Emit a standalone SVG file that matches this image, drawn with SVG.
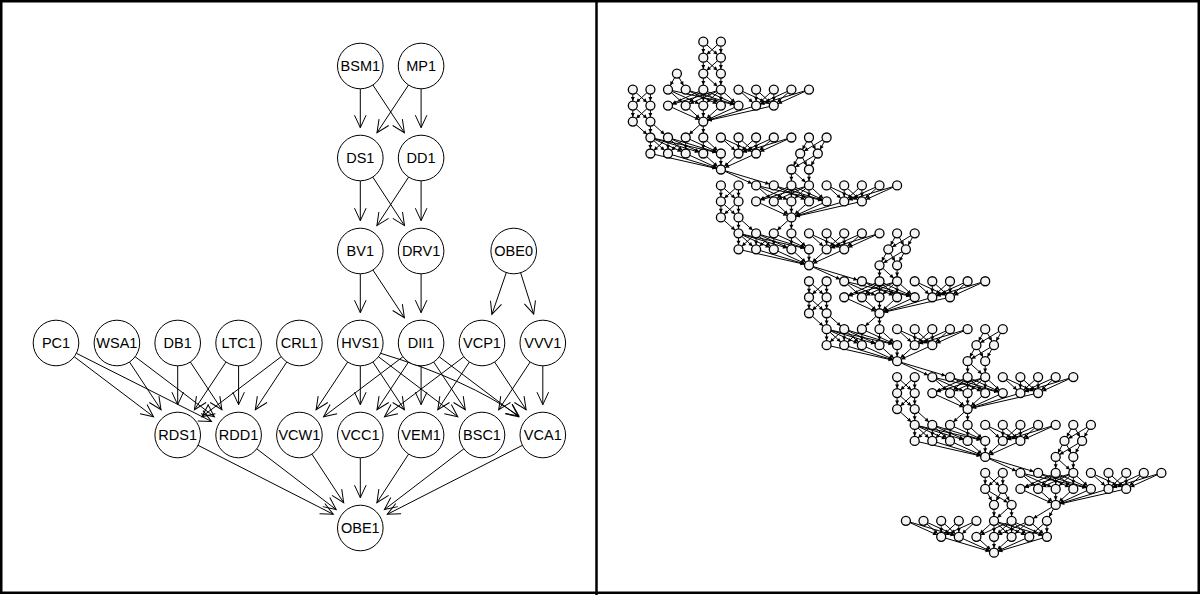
<svg xmlns="http://www.w3.org/2000/svg" width="1201" height="595" viewBox="0 0 1201 595">
<style>
.nd circle{fill:#fff;stroke:#000;stroke-width:1}
.nd text{font-family:"Liberation Sans",Arial,sans-serif;font-size:14.5px;text-anchor:middle;fill:#000}
.e line,.e path{stroke:#000;stroke-width:1;fill:none;marker-end:url(#ah)}
.se line{stroke:#000;stroke-width:1;marker-end:url(#sah)}
.sn circle{fill:#f4f4f4;stroke:#000;stroke-width:1.3}
.frame{fill:none;stroke:#000;stroke-width:2.5}
</style>
<defs>
<marker id="ah" markerUnits="userSpaceOnUse" orient="auto" overflow="visible" markerWidth="1" markerHeight="1" refX="0" refY="0"><path d="M-12.5,-5.8L0,0L-12.5,5.8" fill="none" stroke="#000" stroke-width="1"/></marker>
<marker id="sah" markerUnits="userSpaceOnUse" orient="auto" overflow="visible" markerWidth="1" markerHeight="1" refX="0" refY="0"><path d="M-4.6,0L-8.6,-2L-8.6,2Z" fill="#000"/></marker>
<g id="eA" class="se">
<line x1="703.3" y1="89.6" x2="668" y2="105.6"/><line x1="703.3" y1="89.6" x2="685.7" y2="105.6"/><line x1="703.3" y1="89.6" x2="703.3" y2="105.6"/><line x1="703.3" y1="89.6" x2="720.9" y2="105.6"/><line x1="703.3" y1="89.6" x2="738.5" y2="105.6"/>
<line x1="720.9" y1="89.6" x2="668" y2="105.6"/><line x1="720.9" y1="89.6" x2="685.7" y2="105.6"/><line x1="720.9" y1="89.6" x2="703.3" y2="105.6"/><line x1="720.9" y1="89.6" x2="720.9" y2="105.6"/><line x1="720.9" y1="89.6" x2="738.5" y2="105.6"/>
<line x1="668" y1="89.6" x2="685.7" y2="105.6"/><line x1="668" y1="89.6" x2="703.3" y2="105.6"/><line x1="668" y1="89.6" x2="738.5" y2="105.6"/>
<line x1="685.7" y1="89.6" x2="720.9" y2="105.6"/><line x1="685.7" y1="89.6" x2="738.5" y2="105.6"/>
<line x1="738.5" y1="89.6" x2="756.1" y2="105.6"/><line x1="738.5" y1="89.6" x2="773.8" y2="105.6"/><line x1="756.1" y1="89.6" x2="756.1" y2="105.6"/><line x1="756.1" y1="89.6" x2="773.8" y2="105.6"/><line x1="773.8" y1="89.6" x2="756.1" y2="105.6"/><line x1="773.8" y1="89.6" x2="773.8" y2="105.6"/><line x1="791.4" y1="89.6" x2="756.1" y2="105.6"/><line x1="791.4" y1="89.6" x2="773.8" y2="105.6"/><line x1="809" y1="89.6" x2="756.1" y2="105.6"/><line x1="809" y1="89.6" x2="773.8" y2="105.6"/>
<line x1="668" y1="105.6" x2="703.3" y2="121.6"/><line x1="685.7" y1="105.6" x2="703.3" y2="121.6"/><line x1="703.3" y1="105.6" x2="703.3" y2="121.6"/><line x1="720.9" y1="105.6" x2="703.3" y2="121.6"/><line x1="738.5" y1="105.6" x2="703.3" y2="121.6"/><line x1="756.1" y1="105.6" x2="703.3" y2="121.6"/><line x1="773.8" y1="105.6" x2="703.3" y2="121.6"/>
</g>
<g id="nA" class="sn">
<circle cx="668" cy="89.6" r="4.5"/><circle cx="685.7" cy="89.6" r="4.5"/><circle cx="703.3" cy="89.6" r="4.5"/><circle cx="720.9" cy="89.6" r="4.5"/><circle cx="738.5" cy="89.6" r="4.5"/><circle cx="756.1" cy="89.6" r="4.5"/><circle cx="773.8" cy="89.6" r="4.5"/><circle cx="791.4" cy="89.6" r="4.5"/><circle cx="809" cy="89.6" r="4.5"/>
<circle cx="668" cy="105.6" r="4.5"/><circle cx="685.7" cy="105.6" r="4.5"/><circle cx="703.3" cy="105.6" r="4.5"/><circle cx="720.9" cy="105.6" r="4.5"/><circle cx="738.5" cy="105.6" r="4.5"/><circle cx="756.1" cy="105.6" r="4.5"/><circle cx="773.8" cy="105.6" r="4.5"/>
<circle cx="703.3" cy="121.6" r="4.5"/>
</g>
<g id="eB" class="se">
<line x1="632.8" y1="89.6" x2="632.8" y2="105.6"/><line x1="632.8" y1="89.6" x2="650.4" y2="105.6"/><line x1="650.4" y1="89.6" x2="632.8" y2="105.6"/><line x1="650.4" y1="89.6" x2="650.4" y2="105.6"/>
<line x1="632.8" y1="105.6" x2="632.8" y2="121.6"/><line x1="632.8" y1="105.6" x2="650.4" y2="121.6"/><line x1="650.4" y1="105.6" x2="632.8" y2="121.6"/><line x1="650.4" y1="105.6" x2="650.4" y2="121.6"/>
<line x1="650.4" y1="121.6" x2="650.4" y2="137.5"/><line x1="650.4" y1="121.6" x2="668" y2="137.5"/><line x1="632.8" y1="121.6" x2="650.4" y2="137.5"/>
<line x1="703.3" y1="121.6" x2="685.7" y2="137.5"/><line x1="703.3" y1="121.6" x2="703.3" y2="137.5"/>
<line x1="668" y1="137.5" x2="650.4" y2="153.5"/><line x1="668" y1="137.5" x2="668" y2="153.5"/><line x1="668" y1="137.5" x2="685.7" y2="153.5"/><line x1="668" y1="137.5" x2="703.3" y2="153.5"/><line x1="668" y1="137.5" x2="720.9" y2="153.5"/>
<line x1="650.4" y1="137.5" x2="650.4" y2="153.5"/><line x1="650.4" y1="137.5" x2="668" y2="153.5"/><line x1="650.4" y1="137.5" x2="685.7" y2="153.5"/><line x1="650.4" y1="137.5" x2="703.3" y2="153.5"/><line x1="650.4" y1="137.5" x2="720.9" y2="153.5"/>
<line x1="685.7" y1="137.5" x2="668" y2="153.5"/><line x1="685.7" y1="137.5" x2="685.7" y2="153.5"/><line x1="685.7" y1="137.5" x2="720.9" y2="153.5"/>
<line x1="703.3" y1="137.5" x2="703.3" y2="153.5"/><line x1="703.3" y1="137.5" x2="720.9" y2="153.5"/>
<line x1="720.9" y1="137.5" x2="738.5" y2="153.5"/><line x1="720.9" y1="137.5" x2="756.1" y2="153.5"/><line x1="738.5" y1="137.5" x2="738.5" y2="153.5"/><line x1="738.5" y1="137.5" x2="756.1" y2="153.5"/><line x1="756.1" y1="137.5" x2="738.5" y2="153.5"/><line x1="756.1" y1="137.5" x2="756.1" y2="153.5"/><line x1="773.8" y1="137.5" x2="738.5" y2="153.5"/><line x1="773.8" y1="137.5" x2="756.1" y2="153.5"/><line x1="791.4" y1="137.5" x2="738.5" y2="153.5"/><line x1="791.4" y1="137.5" x2="756.1" y2="153.5"/>
<line x1="650.4" y1="153.5" x2="720.9" y2="169.5"/><line x1="668" y1="153.5" x2="720.9" y2="169.5"/><line x1="685.7" y1="153.5" x2="720.9" y2="169.5"/><line x1="703.3" y1="153.5" x2="720.9" y2="169.5"/><line x1="720.9" y1="153.5" x2="720.9" y2="169.5"/><line x1="738.5" y1="153.5" x2="720.9" y2="169.5"/><line x1="756.1" y1="153.5" x2="720.9" y2="169.5"/>
</g>
<g id="nB" class="sn">
<circle cx="632.8" cy="89.6" r="4.5"/><circle cx="650.4" cy="89.6" r="4.5"/><circle cx="632.8" cy="105.6" r="4.5"/><circle cx="650.4" cy="105.6" r="4.5"/><circle cx="632.8" cy="121.6" r="4.5"/><circle cx="650.4" cy="121.6" r="4.5"/>
<circle cx="650.4" cy="137.5" r="4.5"/><circle cx="668" cy="137.5" r="4.5"/><circle cx="685.7" cy="137.5" r="4.5"/><circle cx="703.3" cy="137.5" r="4.5"/><circle cx="720.9" cy="137.5" r="4.5"/><circle cx="738.5" cy="137.5" r="4.5"/><circle cx="756.1" cy="137.5" r="4.5"/><circle cx="773.8" cy="137.5" r="4.5"/><circle cx="791.4" cy="137.5" r="4.5"/>
<circle cx="650.4" cy="153.5" r="4.5"/><circle cx="668" cy="153.5" r="4.5"/><circle cx="685.7" cy="153.5" r="4.5"/><circle cx="703.3" cy="153.5" r="4.5"/><circle cx="720.9" cy="153.5" r="4.5"/><circle cx="738.5" cy="153.5" r="4.5"/><circle cx="756.1" cy="153.5" r="4.5"/>
<circle cx="720.9" cy="169.5" r="4.5"/>
</g>
<g id="eC" class="se">
<line x1="809" y1="137.5" x2="800.2" y2="153.5"/><line x1="809" y1="137.5" x2="817.8" y2="153.5"/><line x1="826.6" y1="137.5" x2="800.2" y2="153.5"/><line x1="826.6" y1="137.5" x2="817.8" y2="153.5"/>
<line x1="800.2" y1="153.5" x2="791.4" y2="169.5"/><line x1="800.2" y1="153.5" x2="809" y2="169.5"/><line x1="817.8" y1="153.5" x2="791.4" y2="169.5"/><line x1="817.8" y1="153.5" x2="809" y2="169.5"/>
<line x1="791.4" y1="169.5" x2="791.4" y2="185.4"/><line x1="791.4" y1="169.5" x2="809" y2="185.4"/><line x1="809" y1="169.5" x2="809" y2="185.4"/>
<line x1="720.9" y1="169.5" x2="756.1" y2="185.4"/><line x1="720.9" y1="169.5" x2="773.8" y2="185.4"/>
</g>
<g id="nC" class="sn">
<circle cx="809" cy="137.5" r="4.5"/><circle cx="826.6" cy="137.5" r="4.5"/><circle cx="800.2" cy="153.5" r="4.5"/><circle cx="817.8" cy="153.5" r="4.5"/><circle cx="791.4" cy="169.5" r="4.5"/><circle cx="809" cy="169.5" r="4.5"/>
</g>
</defs>
<rect width="1201" height="595" fill="#fff"/>
<g id="frame">
<rect class="frame" x="1.25" y="1.25" width="1197.5" height="591.5"/>
<line x1="596.5" y1="0" x2="596.5" y2="595" stroke="#000" stroke-width="2.5"/>
</g>
<g id="connectors" class="e">
<line x1="360.3" y1="88.8" x2="360.3" y2="127.7"/>
<line x1="372.9" y1="85" x2="404.4" y2="132.7"/>
<line x1="408.5" y1="85" x2="377" y2="132.7"/>
<line x1="421.1" y1="88.8" x2="421.1" y2="127.7"/>
<line x1="360.3" y1="180.8" x2="360.3" y2="220.7"/>
<line x1="372.8" y1="177.1" x2="404.5" y2="225.6"/>
<line x1="408.6" y1="177.1" x2="376.9" y2="225.6"/>
<line x1="421.1" y1="180.8" x2="421.1" y2="220.7"/>
<line x1="360.3" y1="273.8" x2="360.3" y2="312.7"/>
<line x1="372.9" y1="270" x2="404.4" y2="317.7"/>
<line x1="421.1" y1="273.8" x2="421.1" y2="312.7"/>
<line x1="506.3" y1="272.6" x2="491.9" y2="314.4"/>
<line x1="520.6" y1="272.7" x2="533.7" y2="314.1"/>
<line x1="74.2" y1="356.7" x2="153.5" y2="416.7"/>
<line x1="76.4" y1="353.3" x2="211.5" y2="421.4"/>
<line x1="129.5" y1="362" x2="161" y2="409.7"/>
<line x1="135.1" y1="356.7" x2="214.4" y2="416.7"/>
<line x1="177.7" y1="365.8" x2="177.7" y2="404.7"/>
<line x1="190.3" y1="362" x2="221.9" y2="409.7"/>
<line x1="226" y1="362" x2="194.4" y2="409.7"/>
<line x1="238.6" y1="365.8" x2="238.6" y2="404.7"/>
<line x1="281.2" y1="356.7" x2="201.9" y2="416.7"/>
<line x1="286.8" y1="362" x2="255.3" y2="409.7"/>
<line x1="347.7" y1="362" x2="316.1" y2="409.7"/>
<line x1="360.3" y1="365.8" x2="360.3" y2="404.7"/>
<line x1="372.9" y1="362" x2="404.4" y2="409.7"/>
<line x1="378.5" y1="356.8" x2="457.8" y2="416.7"/>
<path d="M380.7,353.3Q468,380 519,416"/>
<line x1="402.9" y1="356.8" x2="323.6" y2="416.7"/>
<line x1="408.5" y1="362" x2="377" y2="409.7"/>
<line x1="421.1" y1="365.8" x2="421.1" y2="404.7"/>
<line x1="433.7" y1="362" x2="465.3" y2="409.7"/>
<line x1="439.3" y1="356.8" x2="518.6" y2="416.7"/>
<line x1="463.8" y1="356.8" x2="384.5" y2="416.7"/>
<line x1="469.4" y1="362" x2="437.8" y2="409.7"/>
<line x1="494.6" y1="362" x2="526.1" y2="409.7"/>
<line x1="530.2" y1="362" x2="498.7" y2="409.7"/>
<line x1="542.8" y1="365.8" x2="542.8" y2="404.7"/>
<line x1="198" y1="445.3" x2="333.3" y2="514.3"/>
<line x1="256.7" y1="448.8" x2="336.2" y2="509.6"/>
<line x1="311.9" y1="454.1" x2="343.7" y2="502.7"/>
<line x1="360.3" y1="457.8" x2="360.3" y2="497.7"/>
<line x1="408.6" y1="454.1" x2="376.9" y2="502.7"/>
<line x1="463.9" y1="448.8" x2="384.4" y2="509.6"/>
<line x1="522.5" y1="445.3" x2="387.3" y2="514.3"/>
</g>
<g id="nodes" class="nd">
<g id="BSM1"><circle cx="360.3" cy="66" r="22.8"/><text x="360.3" y="71.2">BSM1</text></g>
<g id="MP1"><circle cx="421.1" cy="66" r="22.8"/><text x="421.1" y="71.2">MP1</text></g>
<g id="DS1"><circle cx="360.3" cy="158" r="22.8"/><text x="360.3" y="163.2">DS1</text></g>
<g id="DD1"><circle cx="421.1" cy="158" r="22.8"/><text x="421.1" y="163.2">DD1</text></g>
<g id="BV1"><circle cx="360.3" cy="251" r="22.8"/><text x="360.3" y="256.2">BV1</text></g>
<g id="DRV1"><circle cx="421.1" cy="251" r="22.8"/><text x="421.1" y="256.2">DRV1</text></g>
<g id="OBE0"><circle cx="513.7" cy="251" r="22.8"/><text x="513.7" y="256.2">OBE0</text></g>
<g id="PC1"><circle cx="56" cy="343" r="22.8"/><text x="56" y="348.2">PC1</text></g>
<g id="WSA1"><circle cx="116.9" cy="343" r="22.8"/><text x="116.9" y="348.2">WSA1</text></g>
<g id="DB1"><circle cx="177.7" cy="343" r="22.8"/><text x="177.7" y="348.2">DB1</text></g>
<g id="LTC1"><circle cx="238.6" cy="343" r="22.8"/><text x="238.6" y="348.2">LTC1</text></g>
<g id="CRL1"><circle cx="299.4" cy="343" r="22.8"/><text x="299.4" y="348.2">CRL1</text></g>
<g id="HVS1"><circle cx="360.3" cy="343" r="22.8"/><text x="360.3" y="348.2">HVS1</text></g>
<g id="DII1"><circle cx="421.1" cy="343" r="22.8"/><text x="421.1" y="348.2">DII1</text></g>
<g id="VCP1"><circle cx="482" cy="343" r="22.8"/><text x="482" y="348.2">VCP1</text></g>
<g id="VVV1"><circle cx="542.8" cy="343" r="22.8"/><text x="542.8" y="348.2">VVV1</text></g>
<g id="RDS1"><circle cx="177.7" cy="435" r="22.8"/><text x="177.7" y="440.2">RDS1</text></g>
<g id="RDD1"><circle cx="238.6" cy="435" r="22.8"/><text x="238.6" y="440.2">RDD1</text></g>
<g id="VCW1"><circle cx="299.4" cy="435" r="22.8"/><text x="299.4" y="440.2">VCW1</text></g>
<g id="VCC1"><circle cx="360.3" cy="435" r="22.8"/><text x="360.3" y="440.2">VCC1</text></g>
<g id="VEM1"><circle cx="421.1" cy="435" r="22.8"/><text x="421.1" y="440.2">VEM1</text></g>
<g id="BSC1"><circle cx="482" cy="435" r="22.8"/><text x="482" y="440.2">BSC1</text></g>
<g id="VCA1"><circle cx="542.8" cy="435" r="22.8"/><text x="542.8" y="440.2">VCA1</text></g>
<g id="OBE1"><circle cx="360.3" cy="528" r="22.8"/><text x="360.3" y="533.2">OBE1</text></g>
</g>
<g id="unrolled-connectors">
<use href="#eA"/>
<use href="#eA" transform="translate(88.1,95.82)"/>
<use href="#eA" transform="translate(176.2,191.64)"/>
<use href="#eA" transform="translate(264.3,287.46)"/>
<use href="#eA" transform="translate(352.4,383.28)"/>
<use href="#eB"/>
<use href="#eB" transform="translate(88.1,95.82)"/>
<use href="#eB" transform="translate(176.2,191.64)"/>
<use href="#eB" transform="translate(264.3,287.46)"/>
<use href="#eC"/>
<use href="#eC" transform="translate(88.1,95.82)"/>
<use href="#eC" transform="translate(176.2,191.64)"/>
<use href="#eC" transform="translate(264.3,287.46)"/>
<g class="se">
<line x1="703.3" y1="41.7" x2="703.3" y2="57.7"/><line x1="703.3" y1="41.7" x2="720.9" y2="57.7"/><line x1="720.9" y1="41.7" x2="703.3" y2="57.7"/><line x1="720.9" y1="41.7" x2="720.9" y2="57.7"/>
<line x1="703.3" y1="57.7" x2="703.3" y2="73.6"/><line x1="703.3" y1="57.7" x2="720.9" y2="73.6"/><line x1="720.9" y1="57.7" x2="703.3" y2="73.6"/><line x1="720.9" y1="57.7" x2="720.9" y2="73.6"/>
<line x1="703.3" y1="73.6" x2="703.3" y2="89.6"/><line x1="703.3" y1="73.6" x2="720.9" y2="89.6"/><line x1="720.9" y1="73.6" x2="720.9" y2="89.6"/>
<line x1="676.9" y1="73.6" x2="668" y2="89.6"/><line x1="676.9" y1="73.6" x2="685.7" y2="89.6"/>
<line x1="985.2" y1="472.9" x2="985.2" y2="488.9"/><line x1="985.2" y1="472.9" x2="1002.8" y2="488.9"/><line x1="1002.8" y1="472.9" x2="985.2" y2="488.9"/><line x1="1002.8" y1="472.9" x2="1002.8" y2="488.9"/>
<line x1="985.2" y1="488.9" x2="994" y2="504.8"/><line x1="985.2" y1="488.9" x2="1011.6" y2="504.8"/><line x1="1002.8" y1="488.9" x2="994" y2="504.8"/><line x1="1002.8" y1="488.9" x2="1011.6" y2="504.8"/>
<line x1="994" y1="504.8" x2="994" y2="520.8"/><line x1="1011.6" y1="504.8" x2="994" y2="520.8"/><line x1="1011.6" y1="504.8" x2="1011.6" y2="520.8"/>
<line x1="1055.7" y1="504.8" x2="1029.3" y2="520.8"/><line x1="1055.7" y1="504.8" x2="1046.9" y2="520.8"/>
<line x1="1011.6" y1="520.8" x2="976.4" y2="536.8"/><line x1="1011.6" y1="520.8" x2="994" y2="536.8"/><line x1="1011.6" y1="520.8" x2="1011.6" y2="536.8"/><line x1="1011.6" y1="520.8" x2="1029.3" y2="536.8"/><line x1="1011.6" y1="520.8" x2="1046.9" y2="536.8"/>
<line x1="994" y1="520.8" x2="976.4" y2="536.8"/><line x1="994" y1="520.8" x2="994" y2="536.8"/><line x1="994" y1="520.8" x2="1011.6" y2="536.8"/><line x1="994" y1="520.8" x2="1029.3" y2="536.8"/><line x1="994" y1="520.8" x2="1046.9" y2="536.8"/>
<line x1="1029.3" y1="520.8" x2="994" y2="536.8"/><line x1="1029.3" y1="520.8" x2="1011.6" y2="536.8"/><line x1="1029.3" y1="520.8" x2="1046.9" y2="536.8"/>
<line x1="1046.9" y1="520.8" x2="1029.3" y2="536.8"/><line x1="1046.9" y1="520.8" x2="1046.9" y2="536.8"/>
<line x1="905.9" y1="520.8" x2="941.2" y2="536.8"/><line x1="905.9" y1="520.8" x2="958.8" y2="536.8"/><line x1="923.5" y1="520.8" x2="941.2" y2="536.8"/><line x1="923.5" y1="520.8" x2="958.8" y2="536.8"/><line x1="941.2" y1="520.8" x2="941.2" y2="536.8"/><line x1="941.2" y1="520.8" x2="958.8" y2="536.8"/><line x1="958.8" y1="520.8" x2="941.2" y2="536.8"/><line x1="958.8" y1="520.8" x2="958.8" y2="536.8"/><line x1="976.4" y1="520.8" x2="941.2" y2="536.8"/><line x1="976.4" y1="520.8" x2="958.8" y2="536.8"/>
<line x1="941.2" y1="536.8" x2="994" y2="552.7"/><line x1="958.8" y1="536.8" x2="994" y2="552.7"/><line x1="976.4" y1="536.8" x2="994" y2="552.7"/><line x1="994" y1="536.8" x2="994" y2="552.7"/><line x1="1011.6" y1="536.8" x2="994" y2="552.7"/><line x1="1029.3" y1="536.8" x2="994" y2="552.7"/><line x1="1046.9" y1="536.8" x2="994" y2="552.7"/>
</g>
</g>
<g id="unrolled-nodes">
<g id="slice1"><use href="#nA"/></g>
<g id="slice2"><use href="#nB"/></g>
<g id="slice3"><use href="#nA" transform="translate(88.1,95.82)"/><use href="#nC"/></g>
<g id="slice4"><use href="#nB" transform="translate(88.1,95.82)"/></g>
<g id="slice5"><use href="#nA" transform="translate(176.2,191.64)"/><use href="#nC" transform="translate(88.1,95.82)"/></g>
<g id="slice6"><use href="#nB" transform="translate(176.2,191.64)"/></g>
<g id="slice7"><use href="#nA" transform="translate(264.3,287.46)"/><use href="#nC" transform="translate(176.2,191.64)"/></g>
<g id="slice8"><use href="#nB" transform="translate(264.3,287.46)"/></g>
<g id="slice9"><use href="#nA" transform="translate(352.4,383.28)"/><use href="#nC" transform="translate(264.3,287.46)"/></g>
<g id="slice1-chain" class="sn">
<circle cx="703.3" cy="41.7" r="4.5"/><circle cx="720.9" cy="41.7" r="4.5"/><circle cx="703.3" cy="57.7" r="4.5"/><circle cx="720.9" cy="57.7" r="4.5"/><circle cx="703.3" cy="73.6" r="4.5"/><circle cx="720.9" cy="73.6" r="4.5"/><circle cx="676.9" cy="73.6" r="4.5"/>
</g>
<g id="slice10" class="sn">
<circle cx="985.2" cy="472.9" r="4.5"/><circle cx="1002.8" cy="472.9" r="4.5"/><circle cx="985.2" cy="488.9" r="4.5"/><circle cx="1002.8" cy="488.9" r="4.5"/><circle cx="994" cy="504.8" r="4.5"/><circle cx="1011.6" cy="504.8" r="4.5"/>
<circle cx="905.9" cy="520.8" r="4.5"/><circle cx="923.5" cy="520.8" r="4.5"/><circle cx="941.2" cy="520.8" r="4.5"/><circle cx="958.8" cy="520.8" r="4.5"/><circle cx="976.4" cy="520.8" r="4.5"/><circle cx="994" cy="520.8" r="4.5"/><circle cx="1011.6" cy="520.8" r="4.5"/><circle cx="1029.3" cy="520.8" r="4.5"/><circle cx="1046.9" cy="520.8" r="4.5"/>
<circle cx="941.2" cy="536.8" r="4.5"/><circle cx="958.8" cy="536.8" r="4.5"/><circle cx="976.4" cy="536.8" r="4.5"/><circle cx="994" cy="536.8" r="4.5"/><circle cx="1011.6" cy="536.8" r="4.5"/><circle cx="1029.3" cy="536.8" r="4.5"/><circle cx="1046.9" cy="536.8" r="4.5"/>
<circle cx="994" cy="552.7" r="4.5"/>
</g>
</g>
</svg>
